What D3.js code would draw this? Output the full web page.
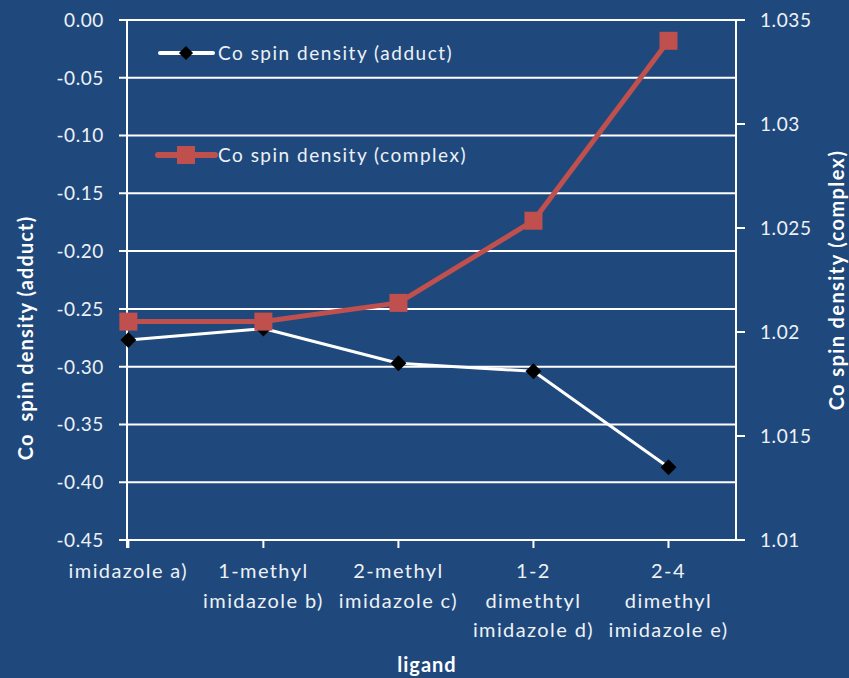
<!DOCTYPE html>
<html><head><meta charset="utf-8">
<script src="https://cdn.jsdelivr.net/npm/d3@7"></script>
<style>body{margin:0;background:#1F497D;} svg{display:block;}</style>
</head><body>
<svg id="c" width="849" height="678"></svg>
<script>
const categories = [["imidazole a)"], ["1-methyl","imidazole b)"], ["2-methyl","imidazole c)"], ["1-2","dimethtyl","imidazole d)"], ["2-4","dimethyl","imidazole e)"]];
const adduct = [-0.277, -0.267, -0.297, -0.304, -0.387];
const complex = [1.0205, 1.0205, 1.0214, 1.02535, 1.034];
const leftTicks = [0, -0.05, -0.10, -0.15, -0.20, -0.25, -0.30, -0.35, -0.40, -0.45];
const rightTicks = [1.035, 1.03, 1.025, 1.02, 1.015, 1.01];
const rightTickLabels = ["1.035", "1.03", "1.025", "1.02", "1.015", "1.01"];

const svg = d3.select("#c");
const W = 849, H = 678;
const L = 127, R = 736, T = 20, B = 540;
const font = "Lato, 'Open Sans', sans-serif";
const txt = "#EEF1F6";

svg.append("rect").attr("width", W).attr("height", H).attr("fill", "#1F497D");

const x = d3.scaleLinear().domain([-0.01, 4.5]).range([L, R]);
const yL = d3.scaleLinear().domain([-0.45, 0]).range([B, T]);
const yR = d3.scaleLinear().domain([1.01, 1.035]).range([B, T]);

// gridlines
svg.append("g").selectAll("line").data(leftTicks).join("line")
  .attr("x1", L - 8).attr("x2", R).attr("y1", d => yL(d)).attr("y2", d => yL(d))
  .attr("stroke", "#fff").attr("stroke-width", 2);

svg.append("line").attr("x1", L).attr("x2", L).attr("y1", T).attr("y2", B + 8)
  .attr("stroke", "#fff").attr("stroke-width", 2);
svg.append("line").attr("x1", R).attr("x2", R).attr("y1", T).attr("y2", B)
  .attr("stroke", "#fff").attr("stroke-width", 2);
svg.append("g").selectAll("line").data(rightTicks).join("line")
  .attr("x1", R).attr("x2", R + 9).attr("y1", d => yR(d)).attr("y2", d => yR(d))
  .attr("stroke", "#fff").attr("stroke-width", 2);
svg.append("g").selectAll("line").data(categories).join("line")
  .attr("x1", (d, i) => x(i)).attr("x2", (d, i) => x(i)).attr("y1", B).attr("y2", B + 8)
  .attr("stroke", "#fff").attr("stroke-width", 2);

svg.append("g").selectAll("text").data(leftTicks).join("text")
  .attr("x", 104).attr("y", d => yL(d)).attr("dy", "0.36em")
  .attr("text-anchor", "end").attr("fill", txt)
  .style("font-family", font).style("font-size", "19px").style("letter-spacing", "0.6px")
  .text(d => d3.format(".2f")(d).replace("−", "-"));

svg.append("g").selectAll("text").data(rightTicks).join("text")
  .attr("x", 760).attr("y", d => yR(d)).attr("dy", "0.36em")
  .attr("fill", txt)
  .style("font-family", font).style("font-size", "19px").style("letter-spacing", "0.6px")
  .text((d, i) => rightTickLabels[i]);

const cg = svg.append("g").selectAll("text").data(categories).join("text")
  .attr("text-anchor", "middle").attr("fill", txt)
  .style("font-family", font).style("font-size", "20px").style("letter-spacing", "1.4px");
cg.each(function(d, i) {
  d3.select(this).selectAll("tspan").data(d).join("tspan")
    .attr("x", x(i)).attr("y", (t, j) => 578 + j * 29.5).text(t => t);
});

svg.append("text").attr("transform", "translate(33,338) rotate(-90)")
  .attr("text-anchor", "middle").attr("fill", "#fff")
  .style("font-family", font).style("font-size", "20px").style("font-weight", "bold").style("letter-spacing", "1.1px")
  .attr("xml:space", "preserve").text("Co  spin density (adduct)");
svg.append("text").attr("transform", "translate(844,280) rotate(-90)")
  .attr("text-anchor", "middle").attr("fill", "#fff")
  .style("font-family", font).style("font-size", "20px").style("font-weight", "bold").style("letter-spacing", "1.4px")
  .text("Co spin density (complex)");
svg.append("text").attr("x", 427).attr("y", 672)
  .attr("text-anchor", "middle").attr("fill", "#fff")
  .style("font-family", font).style("font-size", "20px").style("font-weight", "bold").style("letter-spacing", "1px")
  .text("ligand");

const lineL = d3.line().x((d, i) => x(i)).y(d => yL(d));
const lineR = d3.line().x((d, i) => x(i)).y(d => yR(d));
const red = "#C0504D";

svg.append("path").attr("d", lineL(adduct)).attr("fill", "none")
  .attr("stroke", "#fff").attr("stroke-width", 3).attr("stroke-linejoin", "round");
svg.append("g").selectAll("path").data(adduct).join("path")
  .attr("d", d3.symbol(d3.symbolSquare, 128))
  .attr("transform", (d, i) => `translate(${x(i)},${yL(d)}) rotate(45)`)
  .attr("fill", "#000");

svg.append("path").attr("d", lineR(complex)).attr("fill", "none")
  .attr("stroke", red).attr("stroke-width", 5).attr("stroke-linejoin", "round");
svg.append("g").selectAll("rect").data(complex).join("rect")
  .attr("x", (d, i) => x(i) - 9).attr("y", d => yR(d) - 9)
  .attr("width", 18).attr("height", 18).attr("fill", red);

const leg = [
  {name: "Co spin density (adduct)", y: 53, color: "#fff", w: 4, marker: "diamond", x1: 160, x2: 213},
  {name: "Co spin density (complex)", y: 155, color: red, w: 6, marker: "square", x1: 158, x2: 215}
];
const lg = svg.append("g").selectAll("g").data(leg).join("g");
lg.append("line").attr("x1", d => d.x1).attr("x2", d => d.x2).attr("y1", d => d.y).attr("y2", d => d.y)
  .attr("stroke", d => d.color).attr("stroke-width", d => d.w).attr("stroke-linecap", "round");
lg.filter(d => d.marker === "diamond").append("path")
  .attr("d", d3.symbol(d3.symbolSquare, 100))
  .attr("transform", d => `translate(186,${d.y}) rotate(45)`).attr("fill", "#000");
lg.filter(d => d.marker === "square").append("rect")
  .attr("x", 177).attr("y", d => d.y - 9).attr("width", 18).attr("height", 18).attr("fill", red);
lg.append("text").attr("x", 218).attr("y", d => d.y).attr("dy", "0.36em")
  .attr("fill", txt).style("font-family", font).style("font-size", "19px").style("letter-spacing", "1.5px")
  .text(d => d.name);
</script>
</body></html>
